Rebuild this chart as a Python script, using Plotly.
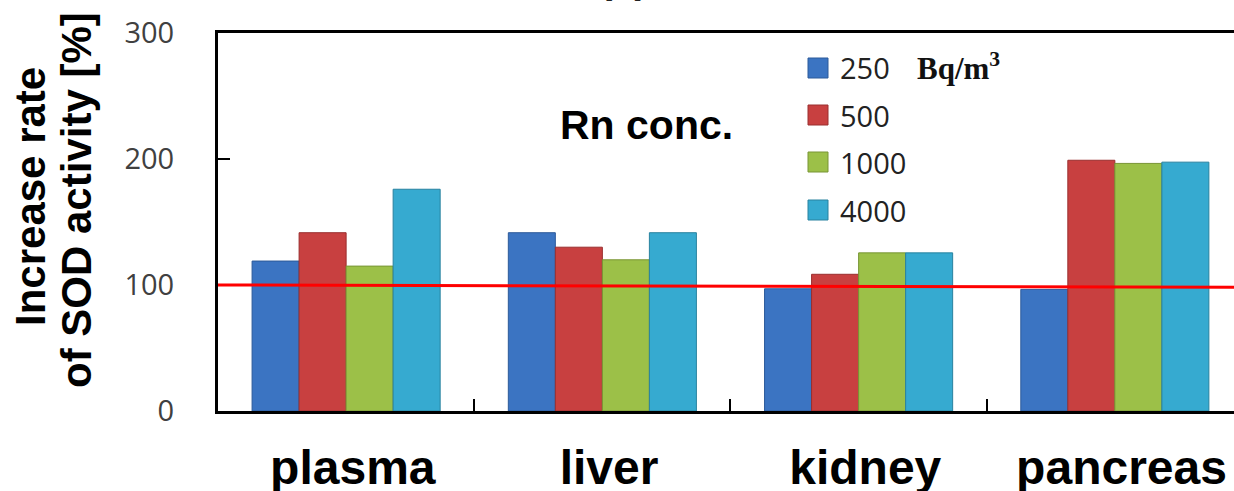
import plotly.graph_objects as go

# ---- data ----
organs = ["plasma", "liver", "kidney", "pancreas"]
rn_conc = ["250", "500", "1000", "4000"]
sod_250 = [119, 141.5, 97, 96.5]
sod_500 = [141.5, 130, 108.5, 199]
sod_1000 = [115, 120, 125.5, 196.5]
sod_4000 = [176, 141.5, 125.5, 197.5]
series_values = [sod_250, sod_500, sod_1000, sod_4000]
bar_colors = ["#3B74C2", "#C84040", "#9CC048", "#36AAD0"]
edge_colors = ["#2C5A9A", "#9A2E2E", "#789534", "#28829F"]
ref_line = [100, 98.2]  # control level, left and right edges of plot
y_ticks = [0, 100, 200, 300]

W, H = 1234, 491
L, R, T, B = 218, 0, 33, 80
pw, ph = W - L - R, H - T - B

def px(x):
    return (x - L) / pw

def py(y):
    return (H - B - y) / ph

fig = go.Figure()
for name, vals, c, ec in zip(rn_conc, series_values, bar_colors, edge_colors):
    fig.add_trace(go.Bar(
        x=organs, y=vals, name=name,
        marker=dict(color=c, line=dict(color=ec, width=1)),
        showlegend=False,
    ))

shapes = [dict(type="line", xref="x domain", yref="y",
               x0=0, x1=1, y0=ref_line[0], y1=ref_line[1],
               line=dict(color="#FF0000", width=3), layer="above")]

annotations = []
# manual legend
row_y = [68, 115, 162, 210]
for i, (name, c) in enumerate(zip(rn_conc, bar_colors)):
    yc = row_y[i]
    shapes.append(dict(type="rect", xref="paper", yref="paper",
                       x0=px(808), x1=px(828), y0=py(yc + 10), y1=py(yc - 10),
                       fillcolor=c, line=dict(color=edge_colors[i], width=1)))
    annotations.append(dict(xref="paper", yref="paper", x=px(838), y=py(yc),
                            xanchor="left", yanchor="middle", showarrow=False,
                            text=name,
                            font=dict(family="Open Sans", size=29, color="#222222")))
annotations.append(dict(xref="paper", yref="paper", x=px(915), y=py(66),
                        xanchor="left", yanchor="middle", showarrow=False,
                        text="<b>Bq/m<sup>3</sup></b>",
                        font=dict(family="Liberation Serif", size=31, color="#111111")))
annotations.append(dict(xref="paper", yref="paper", x=px(646), y=py(125),
                        xanchor="center", yanchor="middle", showarrow=False,
                        text="<b>Rn conc.</b>",
                        font=dict(family="Liberation Sans, Arial", size=41, color="black")))
# y title (two lines placed separately)
annotations.append(dict(xref="paper", yref="paper", x=px(30), y=py(197),
                        xanchor="center", yanchor="middle", showarrow=False,
                        textangle=-90,
                        text="<b>Increase rate</b>",
                        font=dict(family="Liberation Sans, Arial", size=42, color="black")))
annotations.append(dict(xref="paper", yref="paper", x=px(77), y=py(200),
                        xanchor="center", yanchor="middle", showarrow=False,
                        textangle=-90,
                        text="<b>of SOD activity [%]</b>",
                        font=dict(family="Liberation Sans, Arial", size=42, color="black")))
# partially visible title at top
annotations.append(dict(xref="paper", yref="paper", x=px(623), y=py(3.5),
                        xanchor="center", yanchor="bottom", showarrow=False,
                        text="<b>(a)</b>",
                        font=dict(family="Liberation Sans, Arial", size=40, color="#222222")))

fig.update_layout(
    width=W, height=H,
    margin=dict(l=L, r=R, t=T, b=B, pad=0, autoexpand=False),
    paper_bgcolor="white", plot_bgcolor="white",
    barmode="group", bargap=0.266, bargroupgap=0,
    shapes=shapes, annotations=annotations,
    xaxis=dict(
        type="category", range=[-0.5, 3.465], automargin=False,
        showline=True, linecolor="black", linewidth=3, mirror=True,
        ticks="inside", tickson="boundaries", ticklen=12, tickwidth=2, tickcolor="black",
        showgrid=False,
        tickfont=dict(family="Liberation Sans, Arial", size=48, color="black"),
        tickprefix="<b>\u00a0", ticksuffix="</b>",
        ticklabelstandoff=12,
    ),
    yaxis=dict(
        range=[0, 300], tickvals=y_ticks, automargin=False,
        showline=True, linecolor="black", linewidth=3,
        ticks="inside", ticklen=12, tickwidth=2, tickcolor="black",
        showgrid=False, zeroline=False,
        tickfont=dict(family="Open Sans", size=29, color="#404040"),
        ticklabelstandoff=35,
    ),
)

fig.write_html("out.html", config={"displayModeBar": False},
               post_script="document.body.style.margin='0px';document.body.style.overflow='hidden';")
